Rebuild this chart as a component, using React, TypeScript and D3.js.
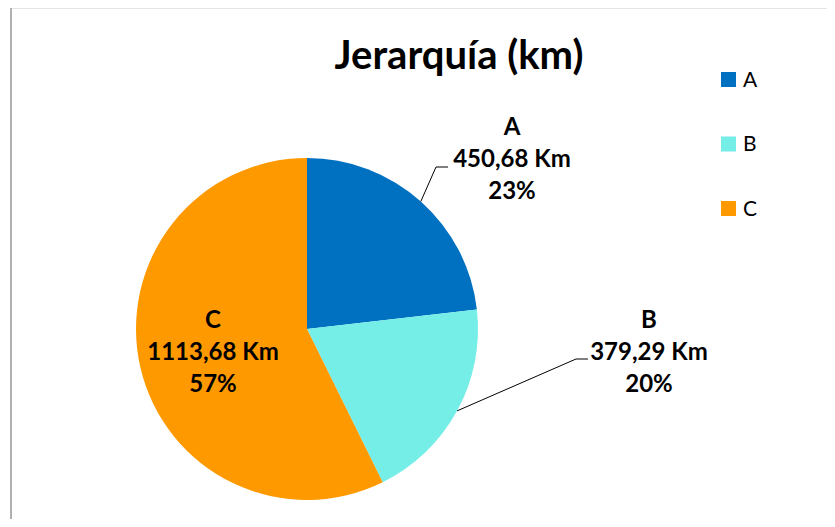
import React from "react";
import * as d3 from "d3";

const categories = ["A", "B", "C"];
const values = [450.68, 379.29, 1113.68];
const valueLabels = ["450,68 Km", "379,29 Km", "1113,68 Km"];
const percentLabels = ["23%", "20%", "57%"];
const colors = ["#0070C0", "#75EEE8", "#FF9900"];
const title = "Jerarquía (km)";

export default function App() {
  const W = 835, H = 527;
  const cx = 307, cy = 329, r = 171;
  const pie = d3.pie<number>().sort(null).value((d) => d)(values);
  const arc = d3.arc<d3.PieArcDatum<number>>().innerRadius(0).outerRadius(r);
  const font = "Lato, 'Open Sans', sans-serif";

  const labelPos = [
    { x: 512 - cx, y: 127 - cy },
    { x: 649 - cx, y: 320 - cy },
    { x: 213 - cx, y: 320 - cy },
  ];
  const leaders: (null | { elbow: [number, number]; end: [number, number] })[] = [
    { elbow: [436 - cx, 167 - cy], end: [448 - cx, 167 - cy] },
    { elbow: [576 - cx, 359 - cy], end: [588 - cx, 359 - cy] },
    null,
  ];

  return (
    <div style={{ margin: -8 }}>
      <svg width={W} height={H} style={{ display: "block" }}>
        <rect x={0} y={0} width={W} height={H} fill="#fff" />
        <line x1={11} y1={7.5} x2={W} y2={7.5} stroke="#999" strokeWidth={1.5} />
        <line x1={11} y1={7} x2={11} y2={H} stroke="#b0b0b0" strokeWidth={2} />
        <text x={459} y={69} textAnchor="middle" fontFamily={font} fontWeight="bold" fontSize={40} fill="#000">
          {title}
        </text>
        <g transform={`translate(${cx},${cy})`}>
          {pie.map((p, i) => (
            <path key={i} d={arc(p) || ""} fill={colors[i]} />
          ))}
          {pie.map((p, i) => {
            const L = leaders[i];
            if (!L) return null;
            const a = (p.startAngle + p.endAngle) / 2;
            const sx = Math.sin(a) * r;
            const sy = -Math.cos(a) * r;
            return (
              <polyline
                key={"l" + i}
                points={`${sx},${sy} ${L.elbow[0]},${L.elbow[1]} ${L.end[0]},${L.end[1]}`}
                fill="none"
                stroke="#000"
                strokeWidth={1}
              />
            );
          })}
          {pie.map((p, i) => (
            <text
              key={"t" + i}
              x={labelPos[i].x}
              y={labelPos[i].y}
              textAnchor="middle"
              fontFamily={font}
              fontWeight="bold"
              fontSize={24}
              fill="#000"
            >
              <tspan x={labelPos[i].x} dy="0.35em">{categories[i]}</tspan>
              <tspan x={labelPos[i].x} dy={32}>{valueLabels[i]}</tspan>
              <tspan x={labelPos[i].x} dy={32}>{percentLabels[i]}</tspan>
            </text>
          ))}
        </g>
        {categories.map((c, i) => (
          <g key={"lg" + i} transform={`translate(721,${72 + i * 64.5})`}>
            <rect x={0} y={0} width={15} height={15} fill={colors[i]} />
            <text x={22} y={7.5} dy="0.35em" fontFamily={font} fontSize={21} fill="#000">
              {c}
            </text>
          </g>
        ))}
      </svg>
    </div>
  );
}
